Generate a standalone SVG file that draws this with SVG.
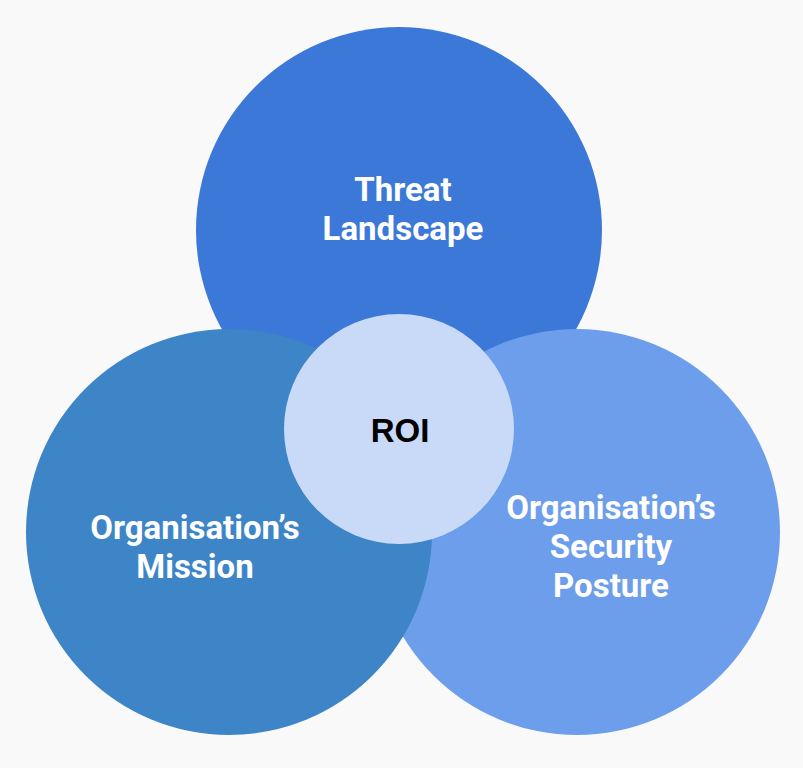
<svg xmlns="http://www.w3.org/2000/svg" width="803" height="768" viewBox="0 0 803 768">
<style>
.lbl{font-family:Roboto,"Liberation Sans",sans-serif;font-weight:700;font-size:33px;fill:#ffffff;text-anchor:middle}
.roi{font-family:"Liberation Sans",Arial,sans-serif;font-weight:700;font-size:33px;fill:#000000;text-anchor:middle}
</style>
<rect width="803" height="768" fill="#f9f9f9"/>
<g id="threat">
<circle cx="399" cy="230" r="203" fill="#3c78d8"/>
</g>
<g id="security">
<circle cx="577" cy="532" r="203" fill="#6d9eeb"/>
</g>
<g id="mission">
<circle cx="229" cy="532" r="203" fill="#3d85c6"/>
</g>
<g id="roi">
<circle cx="399" cy="429" r="115" fill="#c9daf8"/>
<text class="roi" x="400" y="442">ROI</text>
</g>
<g id="labels">
<text class="lbl" x="403" y="201">Threat</text>
<text class="lbl" x="403" y="240">Landscape</text>
<text class="lbl" x="195" y="539">Organisation’s</text>
<text class="lbl" x="195" y="578">Mission</text>
<text class="lbl" x="611" y="519">Organisation’s</text>
<text class="lbl" x="611" y="558">Security</text>
<text class="lbl" x="611" y="597">Posture</text>
</g>
<g id="connectors"></g>
</svg>
